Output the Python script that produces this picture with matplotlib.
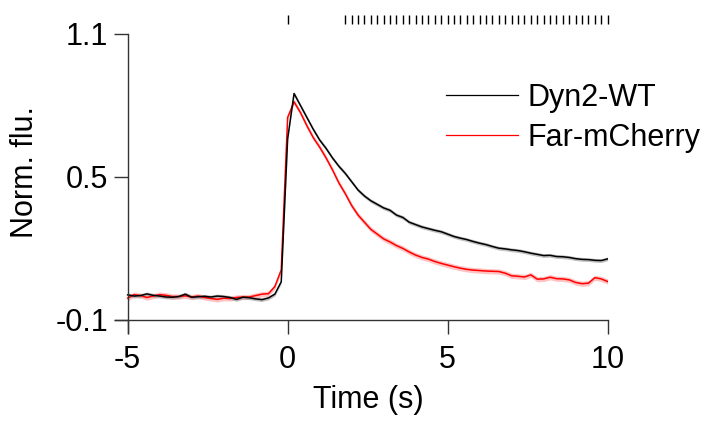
import matplotlib
matplotlib.use("Agg")
import matplotlib.pyplot as plt
from matplotlib.lines import Line2D
import numpy as np

plt.rcParams['font.family'] = ['Liberation Sans', 'DejaVu Sans']

# time base (s), 0.2 s frames
time = [-5.0, -4.8, -4.6, -4.4, -4.2, -4.0, -3.8, -3.6, -3.4, -3.2,
        -3.0, -2.8, -2.6, -2.4, -2.2, -2.0, -1.8, -1.6, -1.4, -1.2,
        -1.0, -0.8, -0.6, -0.4, -0.2, 0.0, 0.2, 0.4, 0.6, 0.8,
        1.0, 1.2, 1.4, 1.6, 1.8, 2.0, 2.2, 2.4, 2.6, 2.8,
        3.0, 3.2, 3.4, 3.6, 3.8, 4.0, 4.2, 4.4, 4.6, 4.8,
        5.0, 5.2, 5.4, 5.6, 5.8, 6.0, 6.2, 6.4, 6.6, 6.8,
        7.0, 7.2, 7.4, 7.6, 7.8, 8.0, 8.2, 8.4, 8.6, 8.8,
        9.0, 9.2, 9.4, 9.6, 9.8, 10.0]

dyn2_wt = [0.005, 0.0, 0.002, 0.009, 0.003, 0.0, -0.004, -0.005, -0.002, 0.008,
           -0.005, -0.003, -0.001, -0.004, 0.0, -0.002, -0.006, -0.014, -0.005, -0.007,
           -0.012, -0.015, -0.008, 0.008, 0.06, 0.66, 0.85, 0.80, 0.75, 0.70,
           0.655, 0.62, 0.58, 0.545, 0.515, 0.48, 0.445, 0.42, 0.40, 0.385,
           0.37, 0.36, 0.34, 0.33, 0.31, 0.30, 0.29, 0.283, 0.276, 0.27,
           0.26, 0.25, 0.243, 0.237, 0.229, 0.222, 0.216, 0.208, 0.201, 0.198,
           0.194, 0.191, 0.186, 0.18, 0.175, 0.17, 0.171, 0.166, 0.165, 0.162,
           0.157, 0.154, 0.153, 0.15, 0.149, 0.156]

far_mcherry = [-0.009, 0.006, 0.002, -0.006, 0.0, 0.006, 0.003, -0.002, -0.002, 0.001,
               -0.004, 0.0, -0.006, -0.01, -0.014, -0.009, -0.01, -0.006, -0.004, -0.004,
               0.002, 0.008, 0.01, 0.04, 0.11, 0.75, 0.815, 0.77, 0.715, 0.665,
               0.625, 0.58, 0.53, 0.475, 0.43, 0.38, 0.34, 0.31, 0.28, 0.26,
               0.24, 0.227, 0.212, 0.2, 0.185, 0.172, 0.162, 0.155, 0.145, 0.137,
               0.13, 0.123, 0.117, 0.112, 0.109, 0.107, 0.105, 0.104, 0.103, 0.096,
               0.085, 0.083, 0.08, 0.089, 0.071, 0.072, 0.079, 0.073, 0.072, 0.068,
               0.057, 0.052, 0.054, 0.077, 0.072, 0.061]

# approximate SEM of each trace
dyn2_sem = 0.008
far_sem = 0.011

# stimulus times (s)
stim = [0.0, 1.8, 2.0, 2.2, 2.4, 2.6, 2.8, 3.0, 3.2, 3.4, 3.6, 3.8, 4.0, 4.2,
        4.4, 4.6, 4.8, 5.0, 5.2, 5.4, 5.6, 5.8, 6.0, 6.2, 6.4, 6.6, 6.8,
        7.0, 7.2, 7.4, 7.6, 7.8, 8.0, 8.2, 8.4, 8.6, 8.8, 9.0, 9.2, 9.4,
        9.6, 9.8, 10.0]

t = np.array(time)
wt = np.array(dyn2_wt)
fm = np.array(far_mcherry)

fig = plt.figure(figsize=(7.09, 4.28), dpi=100)
ax = fig.add_axes([0.162, 0.222, 0.695, 0.6986])

ax.fill_between(t, fm - far_sem, fm + far_sem, color='#ff9999', alpha=0.6, lw=0)
ax.fill_between(t, wt - dyn2_sem, wt + dyn2_sem, color='#999999', alpha=0.6, lw=0)
ax.plot(t, fm, color='#ff0000', lw=1.1)
ax.plot(t, wt, color='black', lw=1.1)

# stimulus markers above the plot
ax.vlines(stim, 1.142, 1.18, color='black', lw=1, clip_on=False)

ax.set_xlim(-5.4, 10)
ax.set_ylim(-0.155, 1.1)
for s in ['top', 'right']:
    ax.spines[s].set_visible(False)
ax.spines['left'].set_position(('data', -5))
ax.spines['bottom'].set_position(('data', -0.1))
for s in ['left', 'bottom']:
    ax.spines[s].set_color('#333333')
    ax.spines[s].set_linewidth(1)

ax.set_xticks([-5, 0, 5, 10])
ax.set_xticklabels(['-5', '0', '5', '10'])
ax.set_yticks([-0.1, 0.5, 1.1])
ax.set_yticklabels(['-0.1', '0.5', '1.1'])
ax.tick_params(direction='out', length=10, width=1, color='#333333',
               labelsize=22, pad=4)
ax.tick_params(axis='x', pad=8)

fig.text(368 / 709, 1 - 400 / 428, 'Time (s)', fontsize=22, ha='center', va='center')
fig.text(25 / 709, 1 - 172 / 428, 'Norm. flu.', fontsize=22, ha='center', va='center',
         rotation=90)

handles = [Line2D([], [], color='black', lw=0.9),
           Line2D([], [], color='#ff0000', lw=0.9)]
fig.legend(handles, ['Dyn2-WT', 'Far-mCherry'], loc='upper left',
           bbox_to_anchor=(446 / 709, 1 - 83 / 428), frameon=False, fontsize=22,
           borderpad=0, borderaxespad=0, handlelength=2.35, handletextpad=0.33,
           labelspacing=0.32)

fig.savefig('out.png', dpi=100)
